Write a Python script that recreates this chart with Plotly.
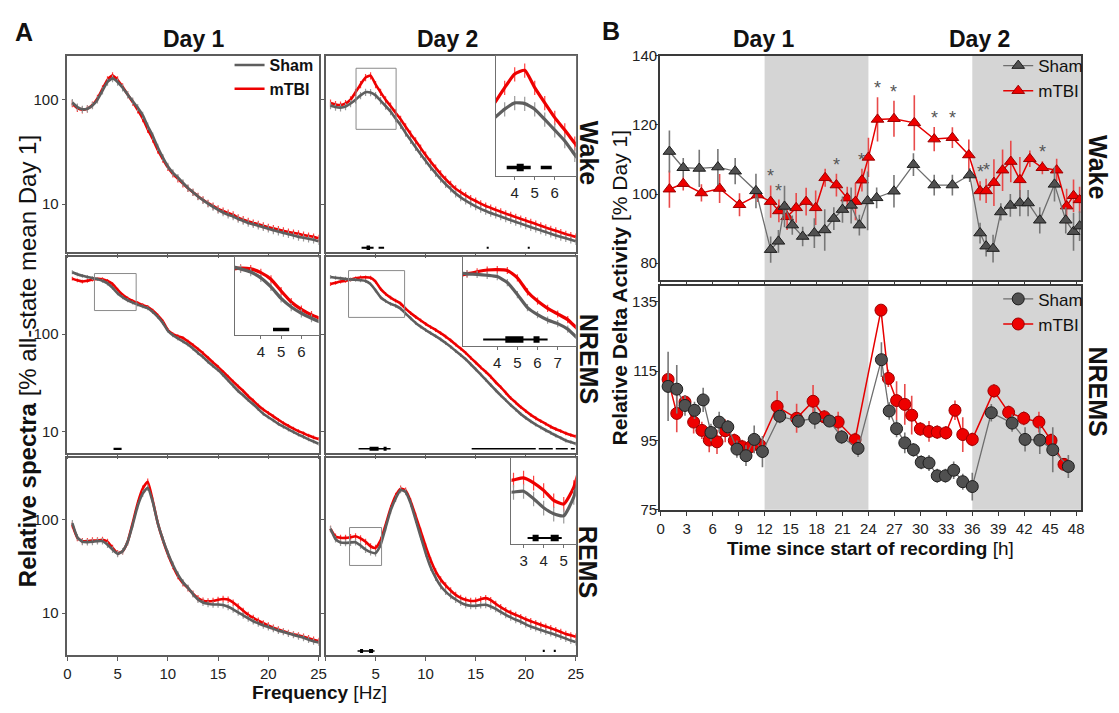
import math
import plotly.graph_objects as go

# ---------------------------------------------------------------- data
FREQ_HZ = [0.5, 1.0, 1.5, 2.0, 2.5, 3.0, 3.5, 4.0, 4.5, 5.0,
           5.5, 6.0, 6.5, 7.0, 7.5, 8.0, 8.5, 9.0, 9.5, 10.0,
           10.5, 11.0, 11.5, 12.0, 12.5, 13.0, 13.5, 14.0, 14.5, 15.0,
           15.5, 16.0, 16.5, 17.0, 17.5, 18.0, 18.5, 19.0, 19.5, 20.0,
           20.5, 21.0, 21.5, 22.0, 22.5, 23.0, 23.5, 24.0, 24.5, 25.0]

WAKE_D1_SHAM = [94, 85, 81, 82, 88, 100, 122, 148, 160, 148,
                130, 112, 97, 84, 71, 56, 45, 35, 28, 23,
                20, 18, 16, 14.3, 13, 11.8, 10.9, 10.1, 9.4, 8.8,
                8.3, 7.9, 7.6, 7.2, 6.9, 6.6, 6.4, 6.2, 6.0, 5.8,
                5.6, 5.45, 5.3, 5.15, 5.0, 4.85, 4.75, 4.65, 4.55, 4.4]
WAKE_D1_MTBI = [92, 83, 80, 82, 89, 103, 127, 155, 170, 155,
                133, 112, 95, 80, 66, 52, 42, 33, 27, 22.5,
                19.5, 17.5, 15.7, 14.2, 13, 11.9, 11, 10.2, 9.6, 9.0,
                8.6, 8.2, 7.9, 7.4, 7.1, 6.85, 6.6, 6.4, 6.2, 6.0,
                5.85, 5.7, 5.55, 5.4, 5.3, 5.2, 5.05, 4.95, 4.85, 4.7]
WAKE_D2_SHAM = [88, 85, 84, 86, 92, 100, 110, 118, 117, 110,
                98, 87, 77, 66, 57, 48, 41, 35, 30, 26,
                22.5, 19.8, 17.4, 15.5, 14, 12.6, 11.6, 10.8, 10.1, 9.5,
                9.0, 8.6, 8.2, 7.9, 7.6, 7.3, 7.0, 6.75, 6.5, 6.25,
                6.0, 5.8, 5.6, 5.4, 5.2, 5.0, 4.85, 4.7, 4.55, 4.4]
WAKE_D2_MTBI = [93, 90, 89, 92, 100, 118, 140, 163, 170, 140,
                118, 100, 87, 75, 65, 55, 47, 40.5, 34.5, 29.5,
                25.5, 22.2, 19.5, 17.3, 15.5, 14.0, 13.0, 12.1, 11.3, 10.7,
                10.1, 9.6, 9.2, 8.8, 8.45, 8.1, 7.8, 7.5, 7.2, 6.95,
                6.7, 6.45, 6.2, 5.95, 5.75, 5.55, 5.35, 5.15, 5.0, 4.85]

NREM_D1_SHAM = [430, 410, 395, 385, 375, 365, 352, 330, 298, 262,
                238, 222, 210, 200, 192, 184, 168, 150, 130, 108,
                97, 90, 84, 78, 71, 64, 58, 52, 47, 42.7,
                38, 33.5, 29.5, 26, 23.5, 21, 19, 17, 15.2, 14,
                13, 12, 11.2, 10.5, 9.9, 9.3, 8.8, 8.3, 7.9, 7.5]
NREM_D1_MTBI = [370, 355, 345, 352, 362, 368, 365, 350, 325, 285,
                252, 232, 218, 208, 198, 190, 174, 155, 135, 110,
                100, 95, 91, 84, 77, 70, 63.5, 57, 51, 46,
                41, 36.5, 32.5, 29, 26, 23, 20.7, 18.5, 16.8, 15.5,
                14.3, 13.2, 12.2, 11.4, 10.7, 10.1, 9.6, 9.1, 8.7, 8.4]
NREM_D2_SHAM = [385, 378, 372, 367, 362, 360, 356, 350, 325, 280,
                238, 218, 204, 195, 182, 162, 145, 130, 119, 110,
                102, 95, 88, 81, 74, 67, 61, 55, 49, 43.5,
                38.5, 34, 30, 26.5, 23.5, 21, 18.7, 16.8, 15.1, 13.8,
                12.7, 11.8, 11, 10.3, 9.7, 9.1, 8.6, 8.1, 7.8, 7.5]
NREM_D2_MTBI = [325, 335, 345, 352, 362, 372, 380, 382, 378, 345,
                290, 258, 236, 220, 205, 182, 164, 150, 138, 127,
                118, 110, 102, 94, 86, 78, 71, 64, 57, 51,
                45.5, 41, 36.5, 32, 28.5, 25, 22, 19.8, 17.8, 16.2,
                14.8, 13.7, 12.8, 12, 11.2, 10.6, 10.1, 9.6, 9.2, 8.9]

REM_D1_SHAM = [92, 65, 58, 57.5, 58, 59, 59, 54, 48, 43,
               46, 58, 88, 140, 190, 220, 155, 92, 62, 44,
               33, 26, 21.5, 18.8, 16, 14, 13, 12.6, 12.4, 12.4,
               12.2, 11.7, 11, 10.2, 9.5, 8.8, 8.2, 7.8, 7.4, 7.1,
               6.8, 6.5, 6.3, 6.05, 5.85, 5.65, 5.45, 5.2, 5.0, 4.85]
REM_D1_MTBI = [88, 64, 59, 59, 60, 60, 61, 58, 50, 44,
               46, 58, 92, 150, 215, 255, 160, 92, 61, 43,
               32, 25, 21, 18.5, 16.2, 14.5, 13.6, 13.4, 13.5, 13.9,
               14.2, 14.0, 13, 11.8, 10.6, 9.6, 8.9, 8.3, 7.8, 7.4,
               7.0, 6.7, 6.4, 6.15, 5.95, 5.8, 5.6, 5.4, 5.2, 5.05]
REM_D2_SHAM = [80, 62, 57, 56.5, 57, 57.5, 53, 48, 45, 44,
               54, 82, 125, 168, 208, 198, 150, 100, 66, 44,
               31, 24, 19.5, 17, 15.3, 14, 13, 12.3, 12, 12,
               12.2, 12.3, 11.8, 11.1, 10.3, 9.6, 9.0, 8.5, 8.1, 7.6,
               7.2, 6.9, 6.6, 6.35, 6.1, 5.85, 5.6, 5.35, 5.1, 4.9]
REM_D2_MTBI = [80, 66, 64, 64, 65, 66.5, 63, 58, 52, 50,
               60, 88, 132, 180, 215, 205, 158, 110, 76, 52,
               37, 28, 23, 19.8, 17.5, 15.7, 14.6, 13.9, 13.5, 13.6,
               14.1, 14.5, 13.8, 12.6, 11.6, 10.8, 10.1, 9.6, 9.1, 8.6,
               8.2, 7.85, 7.5, 7.2, 6.9, 6.6, 6.3, 6.0, 5.8, 5.6]

# SEM of the spectra, in percent of the mean
SPECTRUM_SEM_PCT = {"wake": 8, "nrem": 4.5, "rem": 8}

# significant frequency bands (start Hz, end Hz, strength 1..4)
SIG_WAKE_D2 = [(3.6, 4.8, 2), (4.1, 4.45, 4), (5.3, 5.85, 2), (16.1, 16.3, 2), (20.2, 20.4, 2)]
SIG_NREM_D1 = [(4.6, 5.4, 2)]
SIG_NREM_D2 = [(3.3, 6.5, 1), (4.4, 5.3, 3), (5.8, 6.1, 3), (14.6, 21.0, 1),
               (21.3, 22.7, 1), (23.0, 24.2, 1), (24.5, 24.9, 1)]
SIG_REM_D2 = [(3.2, 4.9, 1), (3.45, 3.75, 3), (4.35, 4.75, 3), (21.7, 21.9, 2), (22.8, 23.0, 2)]

FREQ_TICKS = [0, 5, 10, 15, 20, 25]
SPECTRA_TICKS = [10, 100]

# delta activity time course (hours, % Day 1, SEM)
WAKE_HOURS_SHAM = [1.0, 2.6, 4.45, 6.6, 8.6, 11.0, 12.7, 13.6, 14.3, 15.2, 16.4, 17.75,
                   18.95, 20.0, 21.0, 22.0, 22.95, 23.9, 24.95, 26.95, 29.2, 31.6, 33.7, 35.7,
                   36.9, 37.6, 38.4, 39.3, 40.4, 41.5, 42.45, 43.8, 45.5, 46.8, 47.7, 48.4]
WAKE_SHAM = [112.3, 107.6, 107.4, 107.8, 106.6, 100.9, 83.9, 86.3, 96.4, 91.0, 87.7, 88.7,
             89.6, 92.9, 95.5, 96.7, 91.0, 98.0, 98.9, 100.8, 108.5, 102.6, 102.6, 105.5,
             88.7, 84.9, 84.2, 94.8, 96.7, 97.4, 97.4, 92.4, 102.8, 92.4, 89.1, 90.7]
WAKE_SHAM_SEM = [6.1, 2.8, 5.4, 5.2, 3.8, 5.0, 3.8, 3.3, 6.0, 2.8, 2.8, 4.3,
                 6.0, 3.3, 3.8, 5.2, 3.0, 8.5, 3.0, 4.7, 3.3, 3.0, 3.0, 2.0,
                 3.0, 3.0, 4.0, 2.5, 3.3, 3.8, 3.8, 3.8, 5.0, 3.8, 5.5, 4.3]

WAKE_HOURS_MTBI = [1.0, 2.6, 4.7, 6.8, 9.1, 11.2, 12.7, 13.65, 14.6, 15.65, 16.8, 17.9,
                   19.0, 20.3, 21.55, 22.5, 23.25, 24.0, 25.05, 26.95, 29.3, 31.6, 33.7, 35.6,
                   36.9, 37.6, 38.5, 39.5, 40.45, 41.5, 42.65, 44.1, 45.75, 46.9, 47.7, 48.4]
WAKE_MTBI = [101.4, 103.0, 100.3, 101.6, 96.9, 99.7, 97.8, 95.1, 93.4, 96.0, 97.8, 96.0,
             104.7, 102.6, 98.8, 97.8, 104.0, 110.6, 121.6, 121.8, 120.6, 115.9, 116.3, 111.3,
             100.9, 100.9, 103.3, 106.9, 109.4, 104.1, 110.2, 107.6, 106.9, 96.5, 99.5, 98.3]
WAKE_MTBI_SEM = [5.4, 2.0, 2.5, 4.2, 3.3, 2.0, 4.7, 3.3, 3.8, 4.3, 4.0, 5.0,
                 2.6, 3.3, 3.3, 5.4, 3.3, 5.7, 6.4, 5.2, 8.0, 3.5, 3.0, 4.5,
                 2.8, 3.5, 6.8, 6.0, 6.0, 6.6, 2.4, 1.9, 3.3, 5.0, 4.7, 3.8]
WAKE_SIG_HOURS = [12.7, 13.65, 20.3, 23.25, 25.05, 26.95, 31.6, 33.7, 36.9, 37.6, 44.1]

NREM_HOURS_SHAM = [0.85, 1.85, 2.8, 3.9, 4.9, 5.8, 6.75, 7.75, 8.8, 9.85, 10.8, 11.75,
                   13.75, 15.9, 17.8, 19.5, 20.9, 22.8, 25.5, 26.4, 27.25, 28.2, 29.2, 30.1,
                   31.0, 31.95, 32.9, 33.85, 34.9, 36.0, 38.2, 40.6, 42.1, 43.8, 45.3, 47.1]
NREM_SHAM = [110.6, 109.8, 105.1, 103.7, 106.7, 97.3, 100.3, 98.9, 92.5, 90.6, 95.3, 91.8,
             102.0, 100.6, 101.4, 100.6, 96.0, 92.7, 118.3, 103.5, 98.4, 94.3, 92.3, 88.7,
             88.5, 84.8, 84.8, 86.4, 83.1, 81.7, 103.0, 100.0, 95.3, 95.1, 92.3, 87.5]
NREM_SHAM_SEM = [10.0, 7.0, 3.0, 2.5, 3.5, 2.5, 3.0, 2.0, 2.5, 3.0, 4.0, 4.5,
                 2.0, 2.0, 3.0, 1.5, 2.0, 2.5, 5.0, 2.5, 2.5, 3.0, 2.0, 2.0,
                 2.3, 2.0, 2.0, 2.5, 2.3, 4.0, 2.5, 2.5, 3.5, 4.0, 6.5, 3.3]

NREM_HOURS_MTBI = [0.85, 1.85, 2.8, 3.8, 4.75, 5.6, 6.5, 7.45, 8.5, 9.4, 10.4, 11.45,
                   13.45, 15.7, 17.6, 18.9, 20.5, 22.45, 25.45, 26.3, 27.25, 28.2, 29.0, 30.0,
                   31.0, 31.95, 32.95, 34.0, 34.9, 36.0, 38.5, 40.2, 41.95, 43.7, 45.1, 46.6]
NREM_MTBI = [112.6, 102.8, 106.1, 100.3, 97.9, 95.1, 94.6, 97.8, 95.0, 93.2, 93.2, 93.7,
             104.8, 101.4, 106.3, 101.8, 100.3, 95.2, 132.6, 112.9, 106.5, 105.4, 102.3, 98.3,
             97.6, 97.4, 97.2, 103.7, 96.7, 95.3, 109.3, 103.1, 101.4, 100.3, 95.0, 88.1]
NREM_MTBI_SEM = [2.5, 5.4, 2.0, 3.3, 2.5, 3.5, 3.5, 3.3, 2.0, 2.0, 3.0, 2.0,
                 4.5, 4.2, 4.7, 2.0, 3.0, 2.0, 1.0, 2.5, 5.6, 5.9, 5.6, 2.0,
                 3.0, 2.0, 2.0, 2.8, 5.0, 2.0, 2.0, 2.0, 2.0, 3.0, 2.0, 1.5]

HOUR_TICKS = [0, 3, 6, 9, 12, 15, 18, 21, 24, 27, 30, 33, 36, 39, 42, 45, 48]
WAKE_TICKS = [80, 100, 120, 140]
NREM_TICKS = [75, 95, 115, 135]
DARK_PHASES = [(12, 24), (36, 48)]

# ---------------------------------------------------------------- style / layout
W, H = 1119, 713
FONT = "Liberation Sans, Arial, Helvetica, sans-serif"
INK = "#111111"
FRAME = "#5c5c5c"
B_FRAME = "#3a3a3a"
SHAM_LINE, SHAM_HAIR = "#5e5e5e", "#9a9a9a"
MTBI_LINE, MTBI_HAIR = "#ee0000", "#ff4040"
TICK_FONT = dict(family=FONT, size=15, color="#222222")


def xdom(a, b):
    return [a / W, b / W]


def ydom(top, bottom):
    return [1 - bottom / H, 1 - top / H]


def sfx(n):
    return "" if n == 1 else str(n)


def frame_axis(**kw):
    base = dict(showline=True, mirror=True, linecolor=FRAME, linewidth=1.5,
                ticks="outside", ticklen=4, tickwidth=1.2, tickcolor=FRAME,
                showgrid=False, zeroline=False, tickfont=TICK_FONT)
    base.update(kw)
    return base


SPECTRA = {
    ("wake", 1): (WAKE_D1_SHAM, WAKE_D1_MTBI),
    ("wake", 2): (WAKE_D2_SHAM, WAKE_D2_MTBI),
    ("nrem", 1): (NREM_D1_SHAM, NREM_D1_MTBI),
    ("nrem", 2): (NREM_D2_SHAM, NREM_D2_MTBI),
    ("rem", 1): (REM_D1_SHAM, REM_D1_MTBI),
    ("rem", 2): (REM_D2_SHAM, REM_D2_MTBI),
}
SIG_BANDS = {("wake", 2): SIG_WAKE_D2, ("nrem", 1): SIG_NREM_D1,
             ("nrem", 2): SIG_NREM_D2, ("rem", 2): SIG_REM_D2}

PANEL_ID = {("wake", 1): 1, ("wake", 2): 2, ("nrem", 1): 3,
            ("nrem", 2): 4, ("rem", 1): 5, ("rem", 2): 6}
ROW_BOX = {"wake": (48, 249), "nrem": (254, 455), "rem": (460, 662)}
ROW_YRANGE = {"wake": (3.47, 263), "nrem": (6.0, 617), "rem": (3.55, 457)}
COL_BOX = {1: (64, 318), 2: (325, 578)}

# zoom insets: axis id, pixel box (left, right, top, bottom), Hz range, value range, ticks
INSETS = {
    ("wake", 2): dict(n=7, box=(497, 578, 48, 171), xr=(3.05, 7.05), yr=(52, 200), ticks=[4, 5, 6]),
    ("nrem", 1): dict(n=8, box=(233, 318, 254, 334), xr=(2.7, 6.85), yr=(174, 417), ticks=[4, 5, 6]),
    ("nrem", 2): dict(n=9, box=(464, 578, 254, 345), xr=(2.3, 7.9), yr=(148, 447), ticks=[4, 5, 6, 7]),
    ("rem", 2): dict(n=10, box=(513, 578, 460, 548), xr=(2.4, 5.6), yr=(32.4, 82.5), ticks=[3, 4, 5]),
}

fig = go.Figure()
layout = {}
shapes = []
annotations = []

# ---------------------------------------------------------------- panel A axes
for (state, day), n in PANEL_ID.items():
    top, bot = ROW_BOX[state]
    left, right = COL_BOX[day]
    lo, hi = ROW_YRANGE[state]
    xt = [str(v) for v in FREQ_TICKS]
    if day == 2:
        xt[0] = ""
    layout["xaxis" + sfx(n)] = frame_axis(
        domain=xdom(left, right), anchor="y" + sfx(n), range=[0, 25],
        tickvals=FREQ_TICKS, ticktext=xt, showticklabels=(state == "rem"))
    layout["yaxis" + sfx(n)] = frame_axis(
        domain=ydom(top, bot), anchor="x" + sfx(n), type="log",
        range=[math.log10(lo), math.log10(hi)], tickvals=SPECTRA_TICKS,
        ticktext=[str(v) for v in SPECTRA_TICKS], showticklabels=(day == 1))

for key, ins in INSETS.items():
    n = ins["n"]
    l, r, t, b = ins["box"]
    layout["xaxis" + sfx(n)] = frame_axis(
        domain=xdom(l, r), anchor="y" + sfx(n), range=list(ins["xr"]),
        tickvals=ins["ticks"], linecolor="#707070", linewidth=1, ticklen=3,
        tickcolor="#707070")
    layout["yaxis" + sfx(n)] = frame_axis(
        domain=ydom(t, b), anchor="x" + sfx(n), type="log",
        range=[math.log10(ins["yr"][0]), math.log10(ins["yr"][1])],
        showticklabels=False, ticks="", linecolor="#707070", linewidth=1)
    # zoom box inside the main panel
    pn = PANEL_ID[key]
    shapes.append(dict(type="rect", xref="x" + sfx(pn), yref="y" + sfx(pn),
                       x0=ins["xr"][0], x1=ins["xr"][1], y0=ins["yr"][0], y1=ins["yr"][1],
                       line=dict(color="#8a8a8a", width=1), fillcolor="rgba(0,0,0,0)"))

# ---------------------------------------------------------------- spectra traces
for (state, day), (sham, mtbi) in SPECTRA.items():
    targets = [(PANEL_ID[(state, day)], 2.6)]
    if (state, day) in INSETS:
        targets.append((INSETS[(state, day)]["n"], 3.2))
    for ax, lw in targets:
        for name, vals, lc, hc, rank in (("<b>mTBI</b>", mtbi, MTBI_LINE, MTBI_HAIR, 2),
                                         ("<b>Sham</b>", sham, SHAM_LINE, SHAM_HAIR, 1)):
            fig.add_trace(go.Scatter(
                x=FREQ_HZ, y=vals, mode="lines", name=name,
                line=dict(color=lc, width=lw, shape="spline", smoothing=0.5),
                error_y=dict(type="percent", value=SPECTRUM_SEM_PCT[state],
                             color=hc, thickness=1.2, width=0),
                xaxis="x" + sfx(ax), yaxis="y" + sfx(ax),
                showlegend=(ax == 1), legend="legend", legendrank=rank,
                hoverinfo="skip"))

# significance bars
MAIN_W = {1: 1.5, 2: 2.2, 3: 4.0, 4: 4.5}
INSET_W = {1: 2.0, 2: 3.5, 3: 6.5, 4: 7.5}
for key, bands in SIG_BANDS.items():
    pn = PANEL_ID[key]
    for (f0, f1, s) in bands:
        shapes.append(dict(type="line", xref="x" + sfx(pn), yref="y" + sfx(pn) + " domain",
                           x0=f0, x1=f1, y0=0.022, y1=0.022,
                           line=dict(color="#000000", width=MAIN_W[s])))
    if key in INSETS:
        n = INSETS[key]["n"]
        lo_f, hi_f = INSETS[key]["xr"]
        for (f0, f1, s) in bands:
            if f1 <= lo_f or f0 >= hi_f:
                continue
            shapes.append(dict(type="line", xref="x" + sfx(n), yref="y" + sfx(n) + " domain",
                               x0=f0, x1=f1, y0=0.07, y1=0.07,
                               line=dict(color="#000000", width=INSET_W[s])))

# ---------------------------------------------------------------- panel B
B_XRANGE = [-0.1, 48.6]
layout["xaxis11"] = frame_axis(domain=xdom(663, 1089), anchor="y11", range=B_XRANGE,
                               tickvals=HOUR_TICKS, showticklabels=False,
                               linecolor=B_FRAME, tickcolor=B_FRAME, ticklen=4)
layout["yaxis11"] = frame_axis(domain=ydom(48, 278), anchor="x11", range=[75, 140],
                               tickvals=WAKE_TICKS, linecolor=B_FRAME, tickcolor=B_FRAME,
                               ticklen=3, ticklabelstandoff=-5)
layout["xaxis12"] = frame_axis(domain=xdom(663, 1089), anchor="y12", range=B_XRANGE,
                               tickvals=HOUR_TICKS, linecolor=B_FRAME, tickcolor=B_FRAME,
                               ticklen=4)
layout["yaxis12"] = frame_axis(domain=ydom(284, 513), anchor="x12", range=[75, 139.5],
                               tickvals=NREM_TICKS, linecolor=B_FRAME, tickcolor=B_FRAME,
                               ticklen=3, ticklabelstandoff=-5)

for ax in ("11", "12"):
    for (h0, h1) in DARK_PHASES:
        shapes.append(dict(type="rect", xref="x" + ax, yref="y" + ax + " domain",
                           x0=h0, x1=(B_XRANGE[1] if h1 >= 48 else h1), y0=0, y1=1,
                           fillcolor="#d5d5d5", line=dict(width=0), layer="below"))

B_SERIES = [
    ("11", "legend2", "triangle-up", 11, WAKE_HOURS_MTBI, WAKE_MTBI, WAKE_MTBI_SEM, "mTBI", 2),
    ("11", "legend2", "triangle-up", 11, WAKE_HOURS_SHAM, WAKE_SHAM, WAKE_SHAM_SEM, "Sham", 1),
    ("12", "legend3", "circle", 12, NREM_HOURS_MTBI, NREM_MTBI, NREM_MTBI_SEM, "mTBI", 2),
    ("12", "legend3", "circle", 12, NREM_HOURS_SHAM, NREM_SHAM, NREM_SHAM_SEM, "Sham", 1),
]
for ax, leg, sym, size, hrs, vals, sem, name, rank in B_SERIES:
    is_sham = name == "Sham"
    fig.add_trace(go.Scatter(
        x=hrs, y=vals, mode="lines+markers", name=name,
        line=dict(color="#6e6e6e" if is_sham else "#e60000", width=1.3 if is_sham else 1.5),
        marker=dict(symbol=sym, size=size,
                    color="#505050" if is_sham else "#ee0000",
                    line=dict(color="#1e1e1e" if is_sham else "#9a0000", width=1)),
        error_y=dict(type="data", array=sem, visible=True, width=0, thickness=1.6,
                     color="#777777" if is_sham else "#e84a4a"),
        xaxis="x" + ax, yaxis="y" + ax, legend=leg, legendrank=rank,
        hoverinfo="skip"))

# significance asterisks above mTBI wake points
for h, v, s in zip(WAKE_HOURS_MTBI, WAKE_MTBI, WAKE_MTBI_SEM):
    if h in WAKE_SIG_HOURS:
        annotations.append(dict(xref="x11", yref="y11", x=h, y=v + s, text="*",
                                showarrow=False, yanchor="middle", yshift=9,
                                font=dict(family=FONT, size=18, color="#555555")))


# ---------------------------------------------------------------- labels
def label(px, py, text, size, bold=True, angle=0, color=INK):
    annotations.append(dict(xref="paper", yref="paper", x=px / W, y=1 - py / H,
                            text=("<b>%s</b>" % text) if bold else text,
                            showarrow=False, xanchor="center", yanchor="middle",
                            textangle=angle, font=dict(family=FONT, size=size, color=color)))


label(20, 24, "A", 25)
label(614, 23, "B", 25)
label(192, 31, "Day 1", 23)
label(448, 31, "Day 2", 23)
label(768, 31, "Day 1", 23)
label(986, 31, "Day 2", 23)
label(591, 147, "Wake", 25, angle=90)
label(591, 358, "NREMS", 25, angle=90)
label(591, 566, "REMS", 25, angle=90)
label(1106, 162, "Wake", 25, angle=90)
label(1106, 392, "NREMS", 25, angle=90)
label(24, 361, "<b>Relative spectra</b> [% all-state mean Day 1]", 24, bold=False, angle=-90)
label(319, 700, "<b>Frequency</b> [Hz]", 19, bold=False)
label(622, 285, "<b>Relative Delta Activity</b> [% Day 1]", 21, bold=False, angle=-90)
label(876, 553, "<b>Time since start of recording</b> [h]", 19, bold=False)

legend_common = dict(xanchor="left", yanchor="top", bgcolor="rgba(0,0,0,0)",
                     borderwidth=0, tracegroupgap=0, itemwidth=30)
fig.update_layout(
    width=W, height=H, margin=dict(l=0, r=0, t=0, b=0),
    paper_bgcolor="white", plot_bgcolor="white",
    font=dict(family=FONT, color=INK),
    shapes=shapes, annotations=annotations,
    legend=dict(x=228 / W, y=1 - 40 / H, font=dict(family=FONT, size=16, color=INK),
                **legend_common),
    legend2=dict(x=1005 / W, y=1 - 40 / H, font=dict(family=FONT, size=17, color=INK),
                 **legend_common),
    legend3=dict(x=1005 / W, y=1 - 279 / H, font=dict(family=FONT, size=17, color=INK),
                 **legend_common),
    **layout,
)

fig.write_html("out.html")
